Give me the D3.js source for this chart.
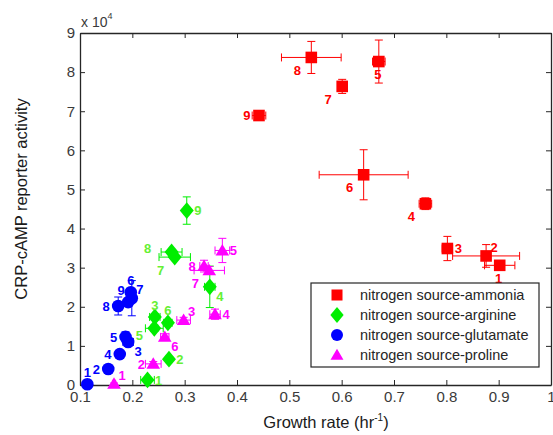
<html>
<script src="https://d3js.org/d3.v7.min.js"></script>
<style>
  body { margin: 0; background: #fff; }
  text { font-family: Arial, "Liberation Sans", sans-serif; }
</style>
<body>
<svg id="plot" width="553" height="435"></svg>
<script>
// growth rate (hr^-1), reporter activity, errors, label direction
var ammoniaX    = [0.902, 0.876, 0.802, 0.760, 0.671, 0.642, 0.601, 0.542, 0.442];
var ammoniaY    = [30600, 33000, 34900, 46350, 82700, 53750, 76350, 83750, 68900];
var ammoniaXErr = [0.029, 0.064, 0.010, 0.012, 0.012, 0.085, 0.005, 0.057, 0.013];
var ammoniaYErr = [300, 2900, 3100, 1500, 5500, 6400, 1800, 4100, 500];
var ammoniaDir  = ["S", "NE", "E", "SW", "S", "SW", "SW", "SW", "W"];

var arginineX    = [0.229, 0.270, 0.243, 0.348, 0.242, 0.268, 0.281, 0.275, 0.304];
var arginineY    = [1300, 6600, 17400, 25100, 14500, 15900, 32700, 34000, 44600];
var arginineXErr = [0.013, 0.005, 0.010, 0.010, 0.017, 0.008, 0.030, 0.020, 0.005];
var arginineYErr = [300, 500, 800, 5300, 800, 600, 600, 500, 3500];
var arginineDir  = ["E", "E", "N", "SE", "WSW", "N", "SW", "WW", "E"];

var glutamateX    = [0.114, 0.154, 0.192, 0.176, 0.187, 0.197, 0.199, 0.173, 0.192];
var glutamateY    = [200, 4100, 11000, 7900, 12300, 23700, 22200, 20200, 21200];
var glutamateXErr = [0.003, 0.005, 0.010, 0.004, 0.005, 0.006, 0.005, 0.006, 0.005];
var glutamateYErr = [300, 600, 700, 500, 1300, 800, 4500, 2300, 900];
var glutamateDir  = ["N", "W", "SE", "W", "W", "N", "NE", "W", "NW"];

var prolineX    = [0.165, 0.240, 0.298, 0.358, 0.372, 0.262, 0.347, 0.337];
var prolineY    = [300, 5400, 16600, 18100, 34400, 12300, 29300, 30400];
var prolineXErr = [0.003, 0.015, 0.013, 0.010, 0.014, 0.008, 0.029, 0.008];
var prolineYErr = [200, 600, 700, 1300, 3100, 800, 1000, 1500];
var prolineDir  = ["NE", "W", "NE", "E", "E", "SE", "SW", "W"];

var seriesNames = ["nitrogen source-ammonia", "nitrogen source-arginine",
                   "nitrogen source-glutamate", "nitrogen source-proline"];
var xTicks = [0.1, 0.2, 0.3, 0.4, 0.5, 0.6, 0.7, 0.8, 0.9, 1];
var yTicks = [0, 10000, 20000, 30000, 40000, 50000, 60000, 70000, 80000, 90000];

var series = [
  {x: ammoniaX, y: ammoniaY, xe: ammoniaXErr, ye: ammoniaYErr, dir: ammoniaDir, shape: "square", color: "#ff0000", label: "#ff0000"},
  {x: arginineX, y: arginineY, xe: arginineXErr, ye: arginineYErr, dir: arginineDir, shape: "diamond", color: "#00ee00", label: "#66f033"},
  {x: glutamateX, y: glutamateY, xe: glutamateXErr, ye: glutamateYErr, dir: glutamateDir, shape: "circle", color: "#0000ff", label: "#0000ff"},
  {x: prolineX, y: prolineY, xe: prolineXErr, ye: prolineYErr, dir: prolineDir, shape: "triangle", color: "#ff00ff", label: "#ff00ff"}
];

var svg = d3.select("#plot");
var x = d3.scaleLinear().domain([0.1, 1]).range([80, 551]);
var y = d3.scaleLinear().domain([0, 90000]).range([385, 33]);

// label offsets for each compass direction
var off = {N: [0, -12], S: [-1, 13], E: [11, 0], W: [-12, 0], NE: [8, -9], NW: [-7, -12],
           SE: [10, 9], SW: [-14, 13], WSW: [-15, 7], WW: [-24, -4]};

function shapePath(shape, s) {
  if (shape == "square") return "M" + -s + "," + -s + "h" + 2 * s + "v" + 2 * s + "h" + -2 * s + "Z";
  if (shape == "diamond") return "M0," + -s * 1.2 + "L" + s + ",0L0," + s * 1.2 + "L" + -s + ",0Z";
  if (shape == "circle") return d3.symbol().type(d3.symbolCircle).size(Math.PI * s * s)();
  if (shape == "triangle") return "M0," + -s * 1.05 + "L" + s * 1.1 + "," + s * 0.8 + "L" + -s * 1.1 + "," + s * 0.8 + "Z";
}
var sizes = {square: 5.8, diamond: 7, circle: 6.3, triangle: 6.2};

// axes
var fmtX = function(d) { return d == 1 ? "1" : d3.format(".1f")(d); };
var gx = svg.append("g").attr("transform", "translate(0,385)")
  .call(d3.axisBottom(x).tickValues(xTicks).tickSizeInner(-5).tickSizeOuter(0).tickPadding(6).tickFormat(fmtX));
var gxt = svg.append("g").attr("transform", "translate(0,33)")
  .call(d3.axisTop(x).tickValues(xTicks).tickSizeInner(-5).tickSizeOuter(0).tickFormat(""));
var gy = svg.append("g").attr("transform", "translate(80,0)")
  .call(d3.axisLeft(y).tickValues(yTicks).tickSizeInner(-5).tickSizeOuter(0).tickPadding(5).tickFormat(function(d) { return d / 10000; }));
var gyr = svg.append("g").attr("transform", "translate(551,0)")
  .call(d3.axisRight(y).tickValues(yTicks).tickSizeInner(-5).tickSizeOuter(0).tickFormat(""));

svg.selectAll(".domain").attr("stroke", "#262626").attr("stroke-width", 1.3);
svg.selectAll(".tick line").attr("stroke", "#262626").attr("stroke-width", 1);
svg.selectAll(".tick text").attr("font-size", 15).attr("fill", "#3a3a3a")
  .attr("font-family", "Arial, 'Liberation Sans', sans-serif");

// exponent
var ex = svg.append("text").attr("x", 81).attr("y", 27).attr("font-size", 14).attr("fill", "#3a3a3a");
ex.append("tspan").text("x 10");
ex.append("tspan").attr("font-size", 9).attr("dy", -8).text("4");

// axis titles
var xl = svg.append("text").attr("x", 326).attr("y", 428).attr("text-anchor", "middle")
  .attr("font-size", 16.5).attr("fill", "#1a1a1a");
xl.append("tspan").text("Growth rate (hr");
xl.append("tspan").attr("font-size", 10).attr("dy", -7).text("-1");
xl.append("tspan").attr("dy", 7).text(")");

svg.append("text").attr("transform", "translate(27,199) rotate(-90)").attr("text-anchor", "middle")
  .attr("font-size", 16.5).attr("fill", "#1a1a1a").text("CRP-cAMP reporter activity");

// error bars, markers, labels
var cap = 4;
series.forEach(function(s) {
  var g = svg.append("g");
  var pts = s.x.map(function(v, i) { return {x: v, y: s.y[i], xe: s.xe[i], ye: s.ye[i], dir: s.dir[i], n: i + 1}; });
  var eb = g.append("g").attr("stroke", s.color).attr("stroke-width", 1).attr("fill", "none");
  pts.forEach(function(p) {
    var cx = x(p.x), cy = y(p.y);
    var y0 = y(p.y - p.ye), y1 = y(p.y + p.ye), x0 = x(p.x - p.xe), x1 = x(p.x + p.xe);
    eb.append("path").attr("d",
      "M" + cx + "," + y0 + "V" + y1 +
      "M" + (cx - cap) + "," + y0 + "H" + (cx + cap) +
      "M" + (cx - cap) + "," + y1 + "H" + (cx + cap) +
      "M" + x0 + "," + cy + "H" + x1 +
      "M" + x0 + "," + (cy - cap) + "V" + (cy + cap) +
      "M" + x1 + "," + (cy - cap) + "V" + (cy + cap));
  });
  g.selectAll("path.mk").data(pts).enter().append("path").attr("class", "mk")
    .attr("transform", function(d) { return "translate(" + x(d.x) + "," + y(d.y) + ")"; })
    .attr("d", shapePath(s.shape, sizes[s.shape]))
    .attr("fill", s.color);
  g.selectAll("text").data(pts).enter().append("text")
    .attr("x", function(d) { return x(d.x) + off[d.dir][0]; })
    .attr("y", function(d) { return y(d.y) + off[d.dir][1]; })
    .attr("dy", "0.36em").attr("text-anchor", "middle")
    .attr("font-size", 13).attr("font-weight", "bold").attr("fill", s.label)
    .text(function(d) { return d.n; });
});

// legend
var lg = svg.append("g");
lg.append("rect").attr("x", 311).attr("y", 283).attr("width", 228).attr("height", 84)
  .attr("fill", "#fff").attr("stroke", "#262626").attr("stroke-width", 1.2);
series.forEach(function(s, i) {
  var ly = 295 + i * 20;
  lg.append("path").attr("transform", "translate(337," + ly + ")")
    .attr("d", shapePath(s.shape, sizes[s.shape] * 0.95)).attr("fill", s.color);
  lg.append("text").attr("x", 360).attr("y", ly).attr("dy", "0.36em")
    .attr("font-size", 14.5).attr("fill", "#262626").text(seriesNames[i]);
});
</script>
</body>
</html>
